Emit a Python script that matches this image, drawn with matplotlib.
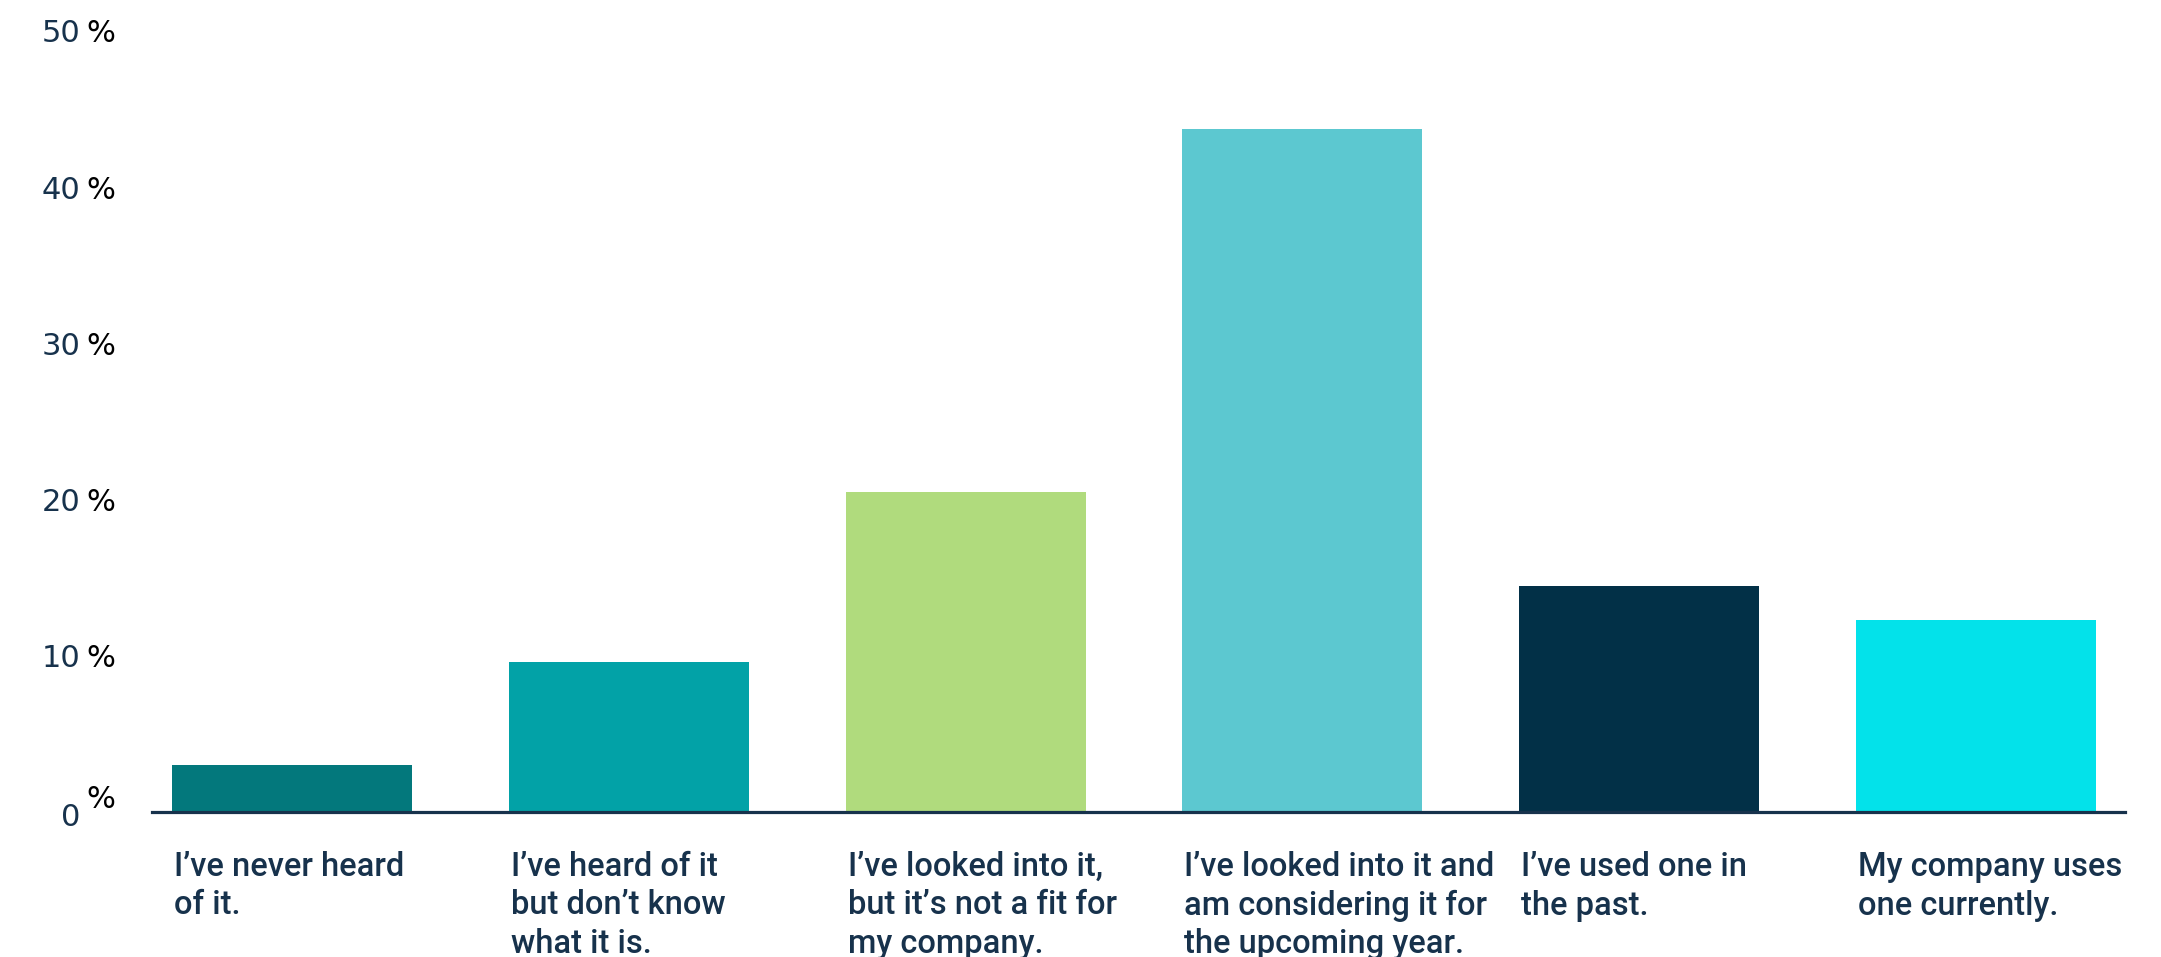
import matplotlib
matplotlib.use("Agg")
import matplotlib.pyplot as plt
import matplotlib.transforms as mtransforms
import numpy as np

categories = [
    "I\u2019ve never heard\nof it.",
    "I\u2019ve heard of it\nbut don\u2019t know\nwhat it is.",
    "I\u2019ve looked into it,\nbut it\u2019s not a fit for\nmy company.",
    "I\u2019ve looked into it and\nam considering it for\nthe upcoming year.",
    "I\u2019ve used one in\nthe past.",
    "My company uses\none currently.",
]
values = [3.0, 9.6, 20.5, 43.7, 14.5, 12.3]
yticks = [0, 10, 20, 30, 40, 50]
colors = ["#03787C", "#02A2A7", "#B0DB7D", "#5CC8D0", "#023047", "#03E2EA"]

NAVY = "#17324C"
W, H = 2161, 957
DPI = 100
fig = plt.figure(figsize=(W / DPI, H / DPI), dpi=DPI)
left, right = 152 / W, 2125 / W
bottom, top = 1 - 812 / H, 1 - 31 / H
ax = fig.add_axes([left, bottom, right - left, top - bottom])

x = np.arange(len(categories))
bw = 0.7126
ax.bar(x, values, width=bw, color=colors, zorder=2)
ax.set_xlim(-0.4157, 5.442)
ax.set_ylim(0, 50)

for s in ["top", "right", "left"]:
    ax.spines[s].set_visible(False)
ax.spines["bottom"].set_color(NAVY)
ax.spines["bottom"].set_linewidth(2.3)
ax.set_xticks([])
ax.set_yticks([])

# y tick labels: number in navy, percent sign in black
trans = mtransforms.blended_transform_factory(fig.transFigure, ax.transData)
fs = 22
for t in yticks:
    if t == 0:
        off_num, off_pct = -6, 13
    else:
        off_num, off_pct = -3, -3
    ax.annotate(str(t), xy=(80 / W, t), xycoords=trans, xytext=(0, off_num),
                textcoords="offset pixels", ha="right", va="center",
                fontsize=fs, color=NAVY, family="DejaVu Sans", annotation_clip=False)
    ax.annotate("%", xy=(86 / W, t), xycoords=trans, xytext=(0, off_pct),
                textcoords="offset pixels", ha="left", va="center",
                fontsize=fs, color="black", family="DejaVu Sans", annotation_clip=False)

# category labels below bars, left aligned at bar left edge
for xi, lab in zip(x, categories):
    ax.annotate(lab, xy=(xi - bw / 2, 0), xycoords="data", xytext=(2, -39),
                textcoords="offset pixels", ha="left", va="top",
                fontsize=23.5, fontweight="medium", color=NAVY, linespacing=1.26,
                family=["Roboto", "DejaVu Sans"], annotation_clip=False)

fig.savefig("out.png", dpi=DPI, facecolor="white")
